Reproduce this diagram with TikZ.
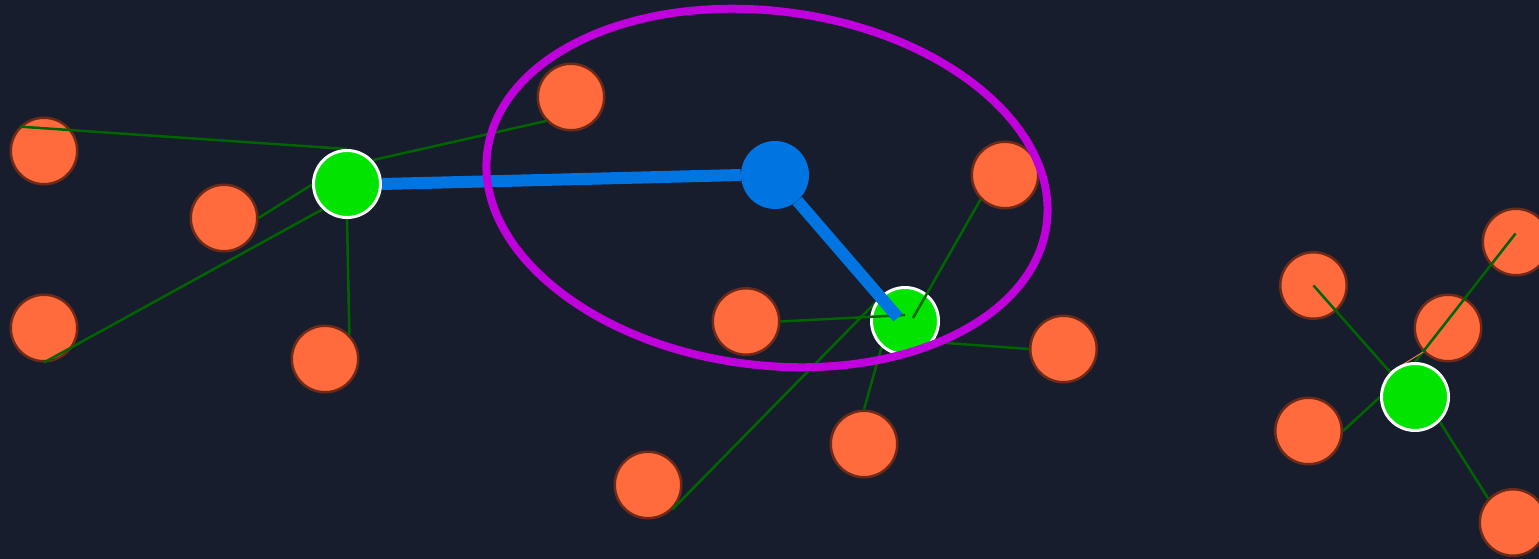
\documentclass[tikz,border=0pt]{standalone}
\definecolor{bgc}{RGB}{23,29,44}
\definecolor{orfill}{RGB}{255,107,61}
\definecolor{ordraw}{RGB}{110,42,24}
\definecolor{grfill}{RGB}{0,228,0}
\definecolor{edgec}{RGB}{0,100,0}
\definecolor{bluec}{RGB}{0,116,224}
\definecolor{magc}{RGB}{192,0,220}
\definecolor{salmon}{RGB}{240,120,90}
\tikzset{
  orangenode/.style={circle, fill=orfill, draw=ordraw, line width=2.5pt, minimum size=66.5pt, inner sep=0pt},
  greennode/.style={circle, fill=grfill, draw=white, line width=3pt, minimum size=67pt, inner sep=0pt},
  ghostnode/.style={circle, line width=3pt, minimum size=67pt, inner sep=0pt},
  bluenode/.style={circle, fill=bluec, minimum size=68pt, inner sep=0pt},
  gedge/.style={draw=edgec, line width=2.5pt},
  thinedge/.style={draw=salmon, line width=1pt},
  bedge/.style={draw=bluec, line width=12pt},
  hull/.style={draw=magc, line width=8pt}
}
\begin{document}
\begin{tikzpicture}[x=1pt,y=-1pt]
\fill[bgc] (0,0) rectangle (1539,559);
\useasboundingbox (0,0) rectangle (1539,559);
% orange nodes
\node[orangenode] (o1) at (44,151) {};
\node[orangenode] (o2) at (224,218) {};
\node[orangenode] (o3) at (44,328) {};
\node[orangenode] (o4) at (325,359) {};
\node[orangenode] (o5) at (571,97) {};
\node[orangenode] (o6) at (1005,175) {};
\node[orangenode] (o7) at (746,321.5) {};
\node[orangenode] (o8) at (1063.5,349) {};
\node[orangenode] (o9) at (864,444) {};
\node[orangenode] (o10) at (648,485) {};
\node[orangenode] (o11) at (1313.5,285.5) {};
\node[orangenode] (o12) at (1516,242) {};
\node[orangenode] (o13) at (1448,328) {};
\node[orangenode] (o14) at (1308.5,431) {};
\node[orangenode] (o15) at (1513,522.5) {};
% coordinates
\coordinate (g1c) at (347,184);
\coordinate (g2c) at (905,321);
\coordinate (g3c) at (1415,397);
\coordinate (o12p) at (1515.5,233.5);
\coordinate (g2a) at (905,315);
\coordinate (g2b) at (913,318);
\coordinate (bt) at (898,317.5);
\coordinate (hc) at (767,188);
% invisible placeholders for green node anchors
\node[ghostnode] (g1) at (g1c) {};
\node[ghostnode] (g2) at (g2c) {};
\node[ghostnode] (g3) at (g3c) {};
% edges beneath green nodes
\draw[gedge] (o1.135) -- (g1.90);
\draw[gedge] (g1.43) -- (o5.224);
\draw[gedge] (g1.181) -- (o2.0);
\draw[gedge] (g1.226) -- (o3.270);
\draw[gedge] (g1.270) -- (o4.45);
\draw[gedge] (o10.315) -- (g2.149);
\draw[gedge] (g2.228) -- (o9.90);
\draw[gedge] (g2.-37) -- (o8.180);
\draw[gedge] (o11.center) -- (g3.135);
\draw[gedge] (o12p) -- (g3.90);
\draw[gedge] (o14.0) -- (g3.180);
\draw[gedge] (g3.-45) -- (o15.136);
\draw[thinedge] (g3.135) -- (o13.224);
% green nodes
\node[greennode] (G1) at (g1c) {};
\node[greennode] (G2) at (g2c) {};
\node[greennode] (G3) at (g3c) {};
% edges over green node 2
\draw[gedge] (o7.0) -- (g2a);
\draw[gedge] (g2b) -- (o6.225);
% blue node and paths
\node[bluenode] (b) at (775,175) {};
\draw[bedge] (G1.east) -- (b.west);
\draw[bedge] (b) -- (bt);
% hull ellipse
\draw[hull, rotate around={-7.4:(hc)}] (hc) ellipse [x radius=282pt, y radius=177pt];
\end{tikzpicture}
\end{document}
